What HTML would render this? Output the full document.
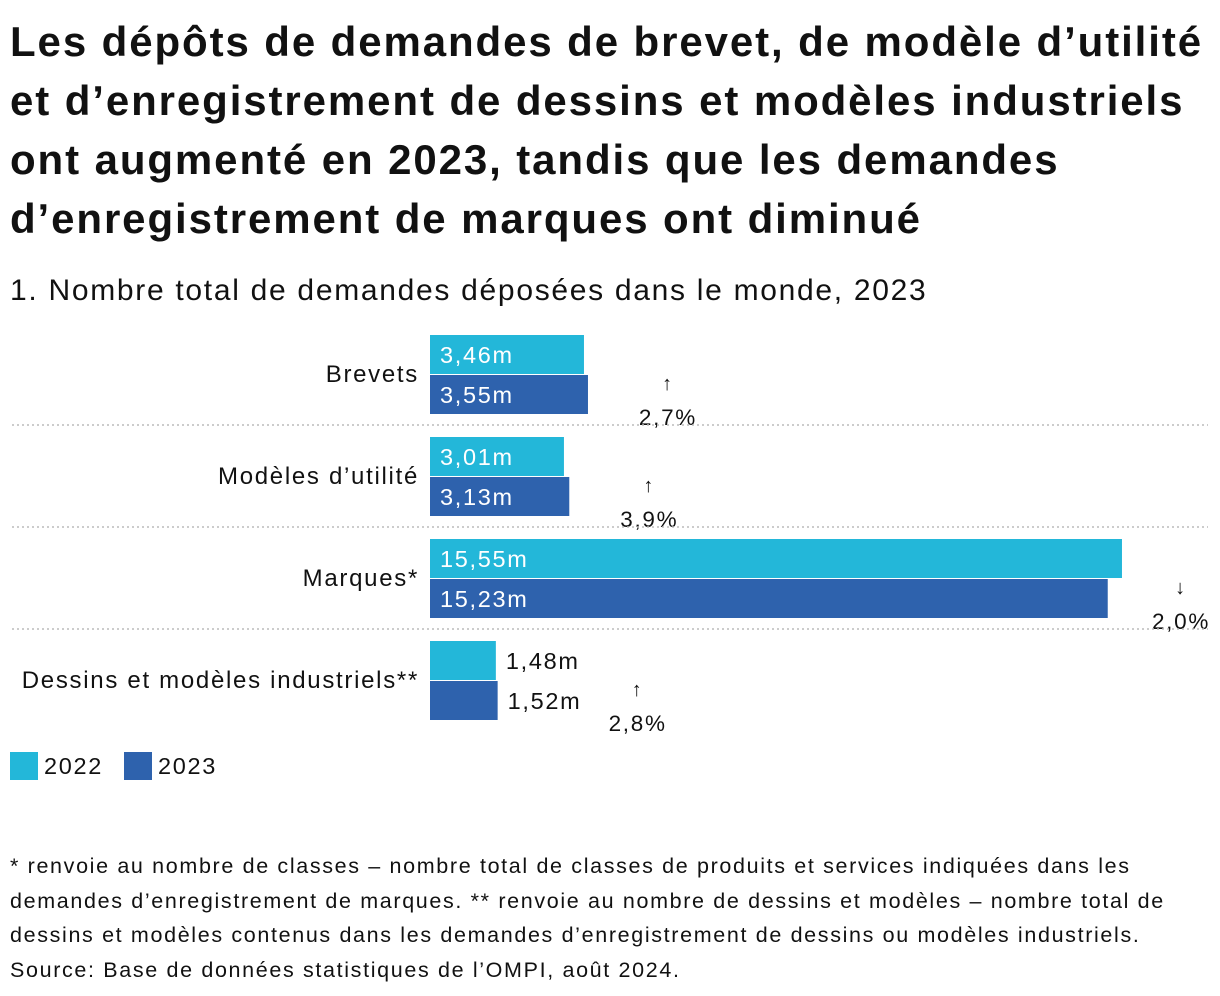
<!DOCTYPE html>
<html><head><meta charset="utf-8">
<style>
body{margin:0;width:1220px;height:996px;background:#fff;font-family:"Liberation Sans",sans-serif;color:#111;overflow:hidden;position:relative}
#title{position:absolute;left:10px;top:12px;font-weight:bold;font-size:42px;line-height:59px;letter-spacing:1.9px;white-space:nowrap}
#sub{position:absolute;left:10px;top:274px;font-size:30px;letter-spacing:1.7px;white-space:nowrap}
#notes{position:absolute;left:10px;top:849px;font-size:21.5px;line-height:34.5px;letter-spacing:1.65px;white-space:nowrap}
svg{position:absolute;left:0;top:0}
svg text{letter-spacing:1.7px}
</style></head><body>
<div id="title">Les dépôts de demandes de brevet, de modèle d’utilité<br>et d’enregistrement de dessins et modèles industriels<br>ont augmenté en 2023, tandis que les demandes<br>d’enregistrement de marques ont diminué</div>
<div id="sub">1. Nombre total de demandes déposées dans le monde, 2023</div>
<svg id="chart" width="1220" height="800"></svg>
<div id="notes">* renvoie au nombre de classes – nombre total de classes de produits et services indiquées dans les<br>demandes d’enregistrement de marques. ** renvoie au nombre de dessins et modèles – nombre total de<br>dessins et modèles contenus dans les demandes d’enregistrement de dessins ou modèles industriels.<br>Source: Base de données statistiques de l’OMPI, août 2024.</div>
<script>
const categories=["Brevets","Modèles d’utilité","Marques*","Dessins et modèles industriels**"];
const values2022=[3.46,3.01,15.55,1.48];
const values2023=[3.55,3.13,15.23,1.52];
const changeLabels=["↑","↑","↓","↑"];
const changeValues=["2,7%","3,9%","2,0%","2,8%"];
const c1="#23b7d9",c2="#2e62ad";
const svg=document.getElementById('chart');
const NS="http://www.w3.org/2000/svg";
const x0=430,k=44.5;
const x=v=>x0+v*k;
const yTop=i=>335+i*102;
function mk(t,a,txt){const e=document.createElementNS(NS,t);for(const n in a)e.setAttribute(n,a[n]);if(txt!=null)e.textContent=txt;svg.appendChild(e);return e;}
const fmt=v=>v.toFixed(2).replace('.',',')+'m';
categories.forEach((c,i)=>{
  const y=yTop(i);
  const l=mk('text',{x:419,y:y+47,'text-anchor':'end','font-size':24,fill:'#111'},c);
  
  
  [[values2022[i],c1,0],[values2023[i],c2,40]].forEach(([v,col,dy],j)=>{
    const w=x(v)-x0;
    const r=mk('rect',{x:x0,y:y+dy,width:w,height:39,fill:col});
    
    
    const inside=w>100;
    const t=mk('text',{x:inside?x0+10:x(v)+10,y:y+dy+28,'font-size':23.5,fill:inside?'#fff':'#111'},fmt(v));
    
    
  });
  const mx=x(Math.max(values2022[i],values2023[i]));
  const inside=(mx-x0)>100;
  const cx=Math.min(inside?mx+80:mx+140,1181);
  const a=mk('text',{x:cx,y:y+55,'text-anchor':'middle','font-size':20,fill:'#111'},changeLabels[i]);
  
  
  const p=mk('text',{x:cx,y:y+90,'text-anchor':'middle','font-size':22.5,fill:'#111'},changeValues[i]);
  
  
  if(i<3){
    const s=mk('line',{x1:12,x2:1208,y1:y+90,y2:y+90,stroke:'#bbb','stroke-width':1.5,'stroke-dasharray':'2,3'});
    
    
  }
});
[["2022",c1,10],["2023",c2,124]].forEach(([n,col,lx])=>{
  const r=mk('rect',{x:lx,y:752,width:28,height:28,fill:col});
  
  
  const t=mk('text',{x:lx+34,y:774,'font-size':23.5,fill:'#111'},n);
  
  
});
</script>
</body></html>
